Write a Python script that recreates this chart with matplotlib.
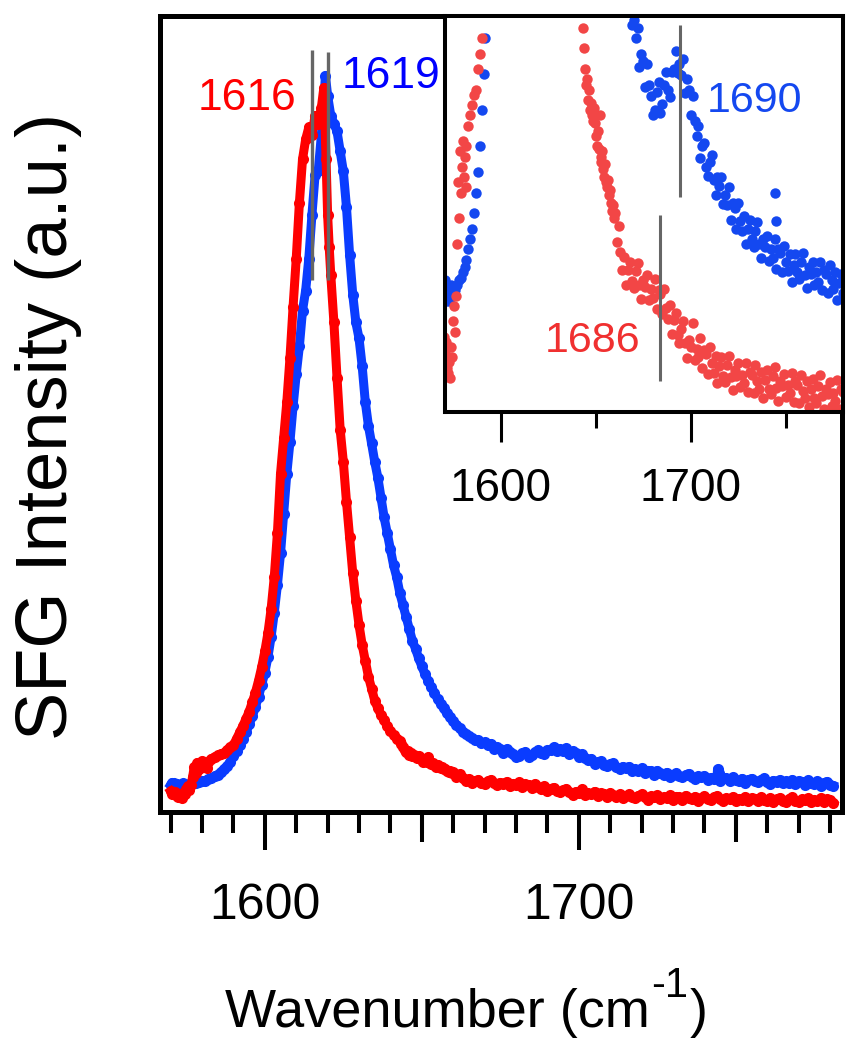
import numpy as np
import matplotlib
matplotlib.use("Agg")
import matplotlib.pyplot as plt
from matplotlib import ticker

plt.rcParams['font.family'] = ['Liberation Sans', 'DejaVu Sans']

# ——— data: SFG spectra (wavenumber, intensity a.u.) ———
red = np.array([
    (1570.0, 2.6), (1570.5, 2.3), (1571.0, 2.2), (1571.5, 2.5), (1572.0, 2.0), (1572.5, 1.9),
    (1573.0, 2.1), (1573.5, 1.8), (1574.0, 2.4), (1574.5, 2.2), (1575.0, 2.9), (1575.5, 3.2),
    (1576.0, 2.7), (1576.5, 3.4), (1577.0, 4.4), (1577.5, 5.6), (1578.0, 4.9), (1578.5, 6.2),
    (1579.0, 5.4), (1579.5, 5.9), (1580.0, 6.4), (1580.5, 5.7), (1581.0, 6.1), (1581.5, 5.5),
    (1582.0, 6.3), (1583.0, 6.7), (1584.0, 6.9), (1585.0, 7.1), (1586.0, 7.3), (1587.0, 7.4),
    (1588.0, 7.8), (1589.0, 8.1), (1590.0, 8.4), (1591.0, 9.2), (1592.0, 10.0), (1593.0, 10.8),
    (1594.0, 11.7), (1595.0, 12.6), (1596.0, 13.8), (1597.0, 15.0), (1598.0, 16.5), (1599.0, 18.2),
    (1600.0, 20.2), (1601.0, 22.5), (1602.0, 25.5), (1603.0, 29.5), (1604.0, 35.0), (1605.0, 42.5),
    (1606.0, 47.0), (1607.0, 51.5), (1608.0, 57.0), (1609.0, 63.5), (1610.0, 69.5), (1611.0, 76.5),
    (1612.0, 82.0), (1613.0, 84.5), (1614.0, 86.0), (1615.0, 85.0), (1616.0, 87.5), (1617.0, 86.5),
    (1618.0, 88.5), (1618.8, 91.0), (1619.5, 82.0), (1620.0, 75.0), (1620.5, 71.0), (1621.0, 67.5),
    (1622.0, 61.5), (1623.0, 54.5), (1624.0, 48.0), (1625.0, 44.0), (1626.0, 39.0), (1627.0, 34.5),
    (1628.0, 30.0), (1629.0, 26.5), (1630.0, 23.5), (1631.0, 21.0), (1632.0, 19.0), (1633.0, 17.0),
    (1634.0, 15.5), (1635.0, 14.0), (1636.0, 13.0), (1637.0, 12.2), (1638.0, 11.5), (1639.0, 10.8),
    (1640.0, 10.2), (1641.0, 9.7), (1642.0, 9.2), (1643.0, 8.9), (1643.5, 8.6), (1644.0, 8.2),
    (1644.5, 7.8), (1645.0, 7.5), (1645.5, 7.6), (1646.0, 7.2), (1646.5, 7.4), (1647.0, 7.0),
    (1647.5, 7.15), (1648.0, 6.9), (1648.5, 6.8), (1649.0, 7.05), (1649.5, 6.75), (1650.0, 6.5),
    (1650.5, 6.3), (1651.0, 6.6), (1651.5, 6.25), (1652.0, 6.9), (1652.5, 6.1), (1653.0, 6.0),
    (1653.5, 6.2), (1654.0, 5.85), (1654.5, 5.7), (1655.0, 5.95), (1655.5, 5.6), (1656.0, 5.5),
    (1656.5, 5.65), (1657.0, 5.35), (1657.5, 5.45), (1658.0, 5.2), (1658.5, 5.05), (1659.0, 5.15),
    (1659.5, 4.9), (1660.0, 5.0), (1661.0, 4.45), (1662.0, 4.75), (1663.0, 4.25), (1664.0, 3.9),
    (1665.0, 4.15), (1666.0, 3.6), (1667.0, 3.9), (1668.0, 4.05), (1669.0, 3.68), (1670.0, 3.55),
    (1671.0, 3.87), (1672.0, 4.04), (1673.0, 3.61), (1674.0, 3.33), (1675.0, 3.7), (1676.0, 3.57),
    (1677.0, 3.79), (1678.0, 3.31), (1679.0, 3.53), (1680.0, 3.35), (1681.0, 3.72), (1682.0, 3.14),
    (1683.0, 3.51), (1684.0, 3.43), (1685.0, 3.05), (1686.0, 3.53), (1687.0, 3.16), (1688.0, 2.94),
    (1689.0, 3.22), (1690.0, 2.65), (1691.0, 2.93), (1692.0, 3.06), (1693.0, 2.64), (1694.0, 2.47),
    (1695.0, 2.75), (1696.0, 2.91), (1697.0, 2.47), (1698.0, 2.18), (1699.0, 2.54), (1700.0, 2.4),
    (1701.0, 2.87), (1702.0, 2.15), (1703.0, 2.37), (1704.0, 2.2), (1705.0, 2.57), (1706.0, 1.99),
    (1707.0, 2.35), (1708.0, 2.27), (1709.0, 1.88), (1710.0, 2.4), (1711.0, 2.08), (1712.0, 1.9),
    (1713.0, 2.23), (1714.0, 1.7), (1715.0, 2.03), (1716.0, 2.21), (1717.0, 1.84), (1718.0, 1.72),
    (1719.0, 2.05), (1720.0, 2.23), (1721.0, 1.82), (1722.0, 1.56), (1723.0, 1.95), (1724.0, 1.84),
    (1725.0, 2.08), (1726.0, 1.62), (1727.0, 1.86), (1728.0, 1.7), (1729.0, 2.09), (1730.0, 1.53),
    (1731.0, 1.92), (1732.0, 1.86), (1733.0, 1.5), (1734.0, 2.05), (1735.0, 1.74), (1736.0, 1.58),
    (1737.0, 1.92), (1738.0, 1.41), (1739.0, 1.76), (1740.0, 1.95), (1741.0, 1.59), (1742.0, 1.48),
    (1743.0, 1.83), (1744.0, 2.02), (1745.0, 1.61), (1746.0, 1.35), (1747.0, 1.74), (1748.0, 1.64),
    (1749.0, 1.88), (1750.0, 1.42), (1751.0, 1.66), (1752.0, 1.5), (1753.0, 1.9), (1754.0, 1.34),
    (1755.0, 1.73), (1756.0, 1.67), (1757.0, 1.32), (1758.0, 1.86), (1759.0, 1.55), (1760.0, 1.4),
    (1761.0, 1.74), (1762.0, 1.23), (1763.0, 1.58), (1764.0, 1.77), (1765.0, 1.41), (1766.0, 1.31),
    (1767.0, 1.65), (1768.0, 1.85), (1769.0, 1.44), (1770.0, 1.19), (1771.0, 1.58), (1772.0, 1.48),
    (1773.0, 1.72), (1774.0, 1.26), (1775.0, 1.51), (1776.0, 1.35), (1777.0, 1.75), (1778.0, 1.19),
    (1779.0, 1.58), (1780.0, 1.53), (1781.0, 1.17),
])

blue = np.array([
    (1570.0, 3.4), (1570.5, 3.7), (1571.0, 3.6), (1571.5, 3.3), (1572.0, 3.5), (1573.0, 3.3),
    (1574.0, 3.6), (1575.0, 3.4), (1576.0, 3.5), (1577.0, 3.6), (1578.0, 3.7), (1579.0, 3.75),
    (1580.0, 3.85), (1581.0, 3.95), (1582.0, 4.1), (1583.0, 4.3), (1584.0, 4.5), (1585.0, 4.7),
    (1586.0, 5.0), (1587.0, 5.4), (1588.0, 5.8), (1589.0, 6.3), (1590.0, 7.0), (1591.0, 7.7),
    (1592.0, 8.4), (1593.0, 9.2), (1594.0, 10.0), (1595.0, 11.0), (1596.0, 12.0), (1597.0, 13.2),
    (1598.0, 14.5), (1599.0, 16.0), (1600.0, 17.5), (1601.0, 19.5), (1602.0, 22.0), (1603.0, 25.0),
    (1604.0, 28.5), (1605.0, 32.5), (1606.0, 37.5), (1607.0, 42.5), (1608.0, 46.5), (1609.0, 51.0),
    (1610.0, 55.0), (1611.0, 58.5), (1612.0, 63.0), (1613.0, 65.5), (1614.0, 69.5), (1615.0, 75.0),
    (1616.0, 80.0), (1617.0, 80.5), (1618.0, 85.0), (1618.6, 88.0), (1619.3, 92.5), (1620.0, 90.0),
    (1621.0, 87.5), (1622.0, 86.5), (1623.0, 85.5), (1624.0, 83.0), (1625.0, 80.5), (1626.0, 76.0),
    (1627.0, 70.0), (1628.0, 65.0), (1629.0, 61.5), (1630.0, 59.5), (1631.0, 56.0), (1632.0, 51.5),
    (1633.0, 48.5), (1634.0, 46.3), (1635.0, 44.0), (1636.0, 42.0), (1637.0, 39.5), (1638.0, 37.0),
    (1639.0, 35.0), (1640.0, 33.0), (1641.0, 31.0), (1642.0, 29.5), (1643.0, 27.5), (1644.0, 26.0),
    (1645.0, 24.5), (1646.0, 23.0), (1647.0, 21.5), (1648.0, 20.5), (1649.0, 19.3), (1650.0, 18.3),
    (1651.0, 17.3), (1652.0, 16.5), (1653.0, 15.7), (1654.0, 15.0), (1655.0, 14.2), (1656.0, 13.6),
    (1657.0, 13.0), (1658.0, 12.4), (1659.0, 11.9), (1660.0, 11.4), (1661.0, 10.9), (1662.0, 10.5),
    (1663.0, 10.1), (1664.0, 9.8), (1665.0, 9.5), (1666.0, 9.3), (1667.0, 9.1), (1668.0, 9.0),
    (1669.0, 8.65), (1670.0, 8.75), (1671.0, 8.4), (1672.0, 8.6), (1673.0, 7.85), (1674.0, 8.1),
    (1675.0, 7.95), (1676.0, 7.45), (1677.0, 7.9), (1678.0, 7.5), (1679.0, 7.27), (1680.0, 6.9),
    (1681.0, 7.0), (1682.0, 7.35), (1683.0, 7.55), (1684.0, 6.95), (1685.0, 7.12), (1686.0, 7.5),
    (1687.0, 7.75), (1688.0, 7.4), (1689.0, 7.25), (1690.0, 7.75), (1691.0, 7.8), (1692.0, 8.15),
    (1693.0, 7.72), (1694.0, 7.9), (1695.0, 7.68), (1696.0, 8.0), (1697.0, 7.33), (1698.0, 7.6),
    (1699.0, 7.4), (1700.0, 6.9), (1701.0, 7.28), (1702.0, 6.8), (1703.0, 6.5), (1704.0, 6.7),
    (1705.0, 6.07), (1706.0, 6.3), (1707.0, 6.37), (1708.0, 5.9), (1709.0, 5.72), (1710.0, 6.0),
    (1711.0, 6.13), (1712.0, 5.65), (1713.0, 5.35), (1714.0, 5.7), (1715.0, 5.52), (1716.0, 5.7),
    (1717.0, 5.18), (1718.0, 5.35), (1719.0, 5.15), (1720.0, 5.5), (1721.0, 4.87), (1722.0, 5.2),
    (1723.0, 5.1), (1724.0, 4.7), (1725.0, 5.2), (1726.0, 4.85), (1727.0, 4.65), (1728.0, 4.95),
    (1729.0, 4.4), (1730.0, 4.7), (1731.0, 4.87), (1732.0, 4.5), (1733.0, 4.35), (1734.0, 4.65),
    (1735.0, 4.82), (1736.0, 4.4), (1737.0, 4.12), (1738.0, 4.5), (1739.0, 4.35), (1740.0, 4.55),
    (1741.0, 4.07), (1742.0, 4.3), (1743.0, 4.12), (1744.0, 4.5), (1744.2, 5.4), (1744.6, 4.85),
    (1745.0, 3.92), (1746.0, 4.3), (1747.0, 4.22), (1748.0, 3.85), (1749.0, 4.37), (1750.0, 4.05),
    (1751.0, 3.87), (1752.0, 4.2), (1753.0, 3.67), (1754.0, 4.0), (1755.0, 4.2), (1756.0, 3.85),
    (1757.0, 3.72), (1758.0, 4.05), (1759.0, 4.22), (1760.0, 3.8), (1761.0, 3.55), (1762.0, 3.95),
    (1763.0, 3.82), (1764.0, 4.05), (1765.0, 3.6), (1766.0, 3.85), (1767.0, 3.67), (1768.0, 4.05),
    (1769.0, 3.5), (1770.0, 3.9), (1771.0, 3.82), (1772.0, 3.45), (1773.0, 4.0), (1774.0, 3.7),
    (1775.0, 3.52), (1776.0, 3.85), (1777.0, 3.32), (1778.0, 3.65), (1779.0, 3.82), (1780.0, 3.45),
    (1781.0, 3.32),
])

red_wn, red_int = red.T
blue_wn, blue_int = blue.T

# peak markers: (position, label)
main_peaks_red = (1614.9, "1616")
main_peaks_blue = (1620.2, "1619")
inset_peak_red = (1683.7, "1686")
inset_peak_blue = (1694.2, "1690")

RED = '#ff0000'
BLUE = '#0a3cff'
RED_IN = '#f24646'
BLUE_IN = '#1448f0'
GREY = '#666666'

fig = plt.figure(figsize=(8.6, 10.5), dpi=100)

# ——— main axes ———
ax = fig.add_axes([0.186, 0.2267, 0.793, 0.758])
ax.plot(blue_wn, blue_int, '-o', color=BLUE, lw=6.5, ms=8, mec='none')
ax.plot(red_wn, red_int, '-o', color=RED, lw=6.5, ms=8, mec='none')

ax.vlines(main_peaks_red[0], 66.8, 95.7, color=GREY, lw=2.4)
ax.vlines(main_peaks_blue[0], 66.8, 95.5, color=GREY, lw=2.4)
ax.text(1610.2, 88.2, main_peaks_red[1], color=RED, fontsize=32, ha='right', va='baseline')
ax.text(1624.5, 91.0, main_peaks_blue[1], color='#0000ff', fontsize=32, ha='left', va='baseline')

ax.set_xlim(1566.6, 1783.8)
ax.set_ylim(0, 100)
ax.set_yticks([])
ax.set_xticks([1600, 1700])
ax.xaxis.set_minor_locator(ticker.MultipleLocator(10))
ax.tick_params(axis='x', which='major', direction='out', length=27.4, width=2.9,
               labelsize=36, pad=24)
ax.tick_params(axis='x', which='minor', direction='out', length=15, width=2.9)
ax.tick_params(top=False, which='both')
for s in ax.spines.values():
    s.set_linewidth(3.6)

# medium ticks at 1650 / 1750
sec = ax.secondary_xaxis('bottom')
sec.set_xticks([1650, 1750])
sec.tick_params(length=21.6, width=2.9, labelbottom=False)
sec.spines['bottom'].set_visible(False)

# x label with a raised "-1"
xl = ax.text(0.0953, -0.270, 'Wavenumber (cm', fontsize=39, ha='left', va='baseline',
             transform=ax.transAxes)
ax.annotate('-1', xy=(1, 0), xycoords=xl, xytext=(1, 23), textcoords='offset points',
            fontsize=30, ha='left', va='bottom')
ax.annotate(')', xy=(1, 0), xycoords=xl, xytext=(29, 0), textcoords='offset points',
            fontsize=39, ha='left', va='bottom')

ax.set_ylabel('SFG Intensity (a.u.)', fontsize=52, va='baseline')
ax.yaxis.set_label_coords(-0.136, 0.484)

# ——— inset ———
axin = fig.add_axes([0.5174, 0.6076, 0.4628, 0.3771])
axin.plot(blue_wn, blue_int, 'o', color=BLUE_IN, ms=7.5, mec='none')
axin.plot(red_wn, red_int, 'o', color=RED_IN, ms=7.5, mec='none')
axin.vlines(inset_peak_blue[0], 5.32, 8.65, color=GREY, lw=2.2)
axin.vlines(inset_peak_red[0], 1.73, 4.96, color=GREY, lw=2.2)
axin.text(1708.2, 6.97, inset_peak_blue[1], color=BLUE_IN, fontsize=31, ha='left', va='baseline')
axin.text(1673.2, 2.31, inset_peak_red[1], color='#f03030', fontsize=31, ha='right', va='baseline')

axin.set_xlim(1570.7, 1780)
axin.set_ylim(1.137, 8.83)
axin.set_yticks([])
axin.set_xticks([1600, 1700])
axin.set_xticks([1650, 1750], minor=True)
axin.tick_params(axis='x', which='major', direction='out', length=21.6, width=2.2,
                 labelsize=33, pad=18)
axin.tick_params(axis='x', which='minor', direction='out', length=11.5, width=2.2)
for s in axin.spines.values():
    s.set_linewidth(2.9)

fig.savefig('out.png', dpi=100)
